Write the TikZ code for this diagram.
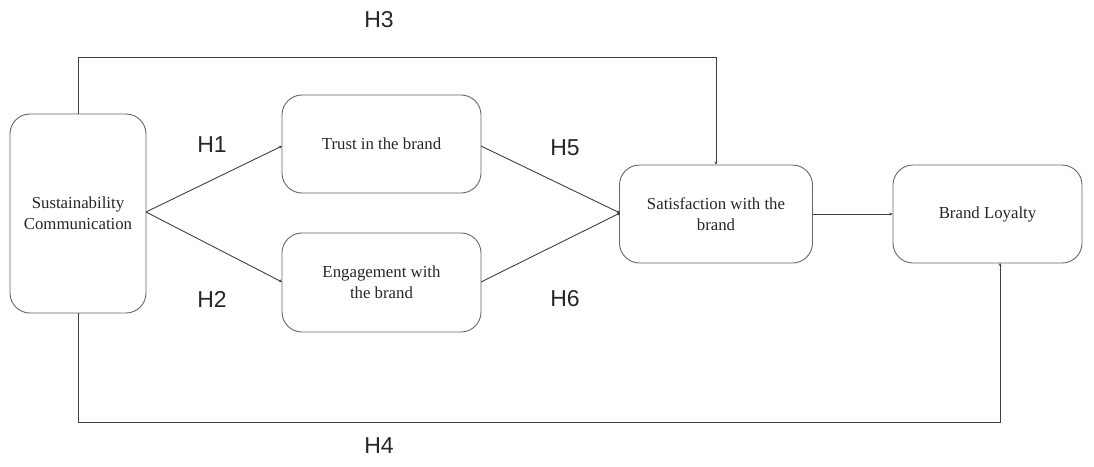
\documentclass[tikz,border=0pt]{standalone}
\usepackage{fontspec}
\setmainfont{Liberation Serif}
\newfontfamily\hfont{Liberation Sans}
\usetikzlibrary{arrows.meta}
\begin{document}
\begin{tikzpicture}[x=1pt,y=-1pt,
  box/.style={draw=black!60, line width=0.9pt, rounded corners=20pt, align=center, font=\fontsize{16.8}{21}\selectfont, text=black!85, inner sep=0pt},
  conn/.style={draw=black!75, line width=0.9pt, -{Stealth[length=3pt,width=3pt]}},
  hlab/.style={font=\hfont\fontsize{23}{26}\selectfont, text=black!85, inner sep=0pt}]
\useasboundingbox (0,0) rectangle (1094,466);
\node[box, minimum width=136pt, minimum height=199pt] (sc) at (78,213.5) {Sustainability\\Communication};
\node[box, minimum width=199pt, minimum height=98pt] (tr) at (381.5,144) {Trust in the brand};
\node[box, minimum width=199pt, minimum height=99pt] (en) at (381.5,282.5) {Engagement with\\the brand};
\node[box, minimum width=193pt, minimum height=98pt] (sa) at (716,214) {Satisfaction with the\\brand};
\node[box, minimum width=189pt, minimum height=98pt] (bl) at (987.5,214) {Brand Loyalty};
\coordinate (scr) at (146,212);
\coordinate (trl) at (282,146);
\coordinate (enl) at (282,282);
\coordinate (trr) at (481,146);
\coordinate (enr) at (481,282);
\coordinate (sal) at (620,213);
\draw[conn] (scr) -- (trl);
\draw[conn] (scr) -- (enl);
\draw[conn] (trr) -- (sal);
\draw[conn] (enr) -- (sal);
\draw[conn] (sa.east) -- (bl.west);
\draw[conn] (78,114) -- (78,57) -- (716,57) -- (sa.north);
\draw[conn] (78,313) -- (78,422) -- (1000,422) -- (1000,263);
\node[hlab] (h3) at (379,20) {H3};
\node[hlab] (h4) at (379,446) {H4};
\node[hlab] (h1) at (212,145) {H1};
\node[hlab] (h2) at (212,299) {H2};
\node[hlab] (h5) at (565,148) {H5};
\node[hlab] (h6) at (565,299) {H6};
\end{tikzpicture}
\end{document}
